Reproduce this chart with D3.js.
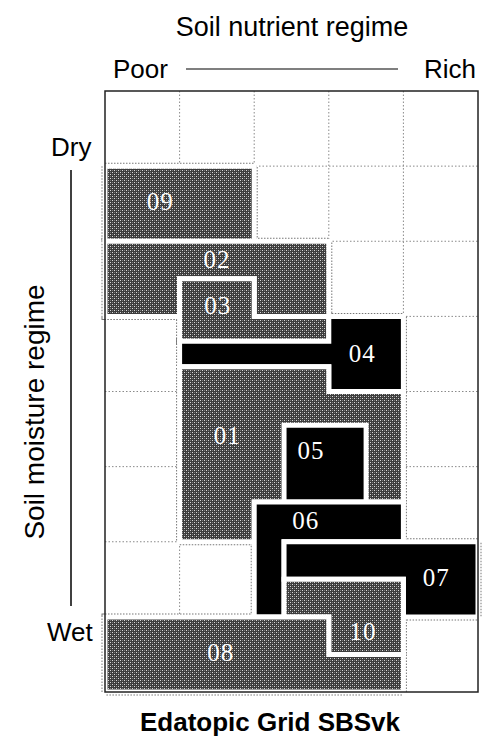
<!DOCTYPE html>
<html lang="en">
<head>
    <meta charset="UTF-8">
    <title>Edatopic Grid SBSvk</title>
    <style>
        body {
            margin: 0;
            background-color: #fff;
            font-family: "Liberation Sans", Arial, sans-serif;
        }
        .unit-label {
            fill: #fff;
            font-family: "Liberation Serif", "DejaVu Serif", serif;
            font-size: 25px;
        }
    </style>
</head>
<body>
    <svg id="chart" width="485" height="740"></svg>
    <script src="https://cdn.jsdelivr.net/npm/d3@7"></script>
    <script>
        // grid: 5 nutrient columns (poor -> rich), 8 moisture rows (dry -> wet)
        const nCols = 5;
        const nRows = 8;

        const unitIds = ["09", "02", "03", "04", "01", "05", "06", "07", "10", "08"];
        const unitShade = ["grey", "grey", "grey", "black", "grey", "black", "black", "black", "grey", "grey"];

        // outlines in grid units [column, row]
        const unitShapes = [
            [[0, 1], [2, 1], [2, 2], [0, 2]],
            [[0, 2], [3, 2], [3, 3], [2, 3], [2, 2.5], [1, 2.5], [1, 3], [0, 3]],
            [[1, 2.5], [2, 2.5], [2, 3], [3, 3], [3, 3.33], [1, 3.33]],
            [[1, 3.33], [3, 3.33], [3, 3], [4, 3], [4, 4], [3, 4], [3, 3.67], [1, 3.67]],
            [[1, 3.67], [3, 3.67], [3, 4], [4, 4], [4, 5.47], [2, 5.47], [2, 6], [1, 6]],
            [[2.4, 4.45], [3.5, 4.45], [3.5, 5.47], [2.4, 5.47]],
            [[2, 5.47], [4, 5.47], [4, 6], [2.4, 6], [2.4, 7], [2, 7]],
            [[2.4, 6], [5, 6], [5, 7], [4, 7], [4, 6.5], [2.4, 6.5]],
            [[2.4, 6.5], [4, 6.5], [4, 7.5], [3, 7.5], [3, 7], [2.4, 7]],
            [[0, 7], [3, 7], [3, 7.5], [4, 7.5], [4, 8], [0, 8]]
        ];

        // where each unit number sits, grid units
        const labelAt = [
            [0.74, 1.47], [1.5, 2.24], [1.51, 2.85], [3.45, 3.49], [1.64, 4.59],
            [2.76, 4.78], [2.69, 5.72], [4.44, 6.48], [3.46, 7.19], [1.55, 7.47]
        ];

        const titleText = "Edatopic Grid SBSvk";
        const nutrientTitle = "Soil nutrient regime";
        const nutrientEnds = ["Poor", "Rich"];
        const moistureTitle = "Soil moisture regime";
        const moistureEnds = ["Dry", "Wet"];

        const svg = d3.select("#chart");

        const x = d3.scaleLinear().domain([0, nCols]).range([105, 478]);
        const y = d3.scaleLinear().domain([0, nRows]).range([91, 692]);

        // halftone fill for the grey units
        const defs = svg.append("defs");
        const pat = defs.append("pattern")
            .attr("id", "halftone")
            .attr("patternUnits", "userSpaceOnUse")
            .attr("width", 4)
            .attr("height", 4);
        pat.append("rect").attr("width", 4).attr("height", 4).attr("fill", "#3c3c3c");
        pat.append("rect").attr("x", 0).attr("y", 0).attr("width", 1).attr("height", 1).attr("fill", "#d8d8d8");
        pat.append("rect").attr("x", 2).attr("y", 2).attr("width", 1).attr("height", 1).attr("fill", "#d8d8d8");
        pat.append("rect").attr("x", 2).attr("y", 0).attr("width", 1).attr("height", 1).attr("fill", "#7a7a7a");
        pat.append("rect").attr("x", 0).attr("y", 2).attr("width", 1).attr("height", 1).attr("fill", "#7a7a7a");

        // dotted grid
        const grid = svg.append("g")
            .attr("stroke", "#8a8a8a")
            .attr("stroke-width", 1)
            .attr("stroke-dasharray", "1.5,2");
        grid.selectAll("line.v")
            .data(d3.range(1, nCols))
            .join("line")
            .attr("class", "v")
            .attr("x1", d => x(d)).attr("x2", d => x(d))
            .attr("y1", y(0)).attr("y2", y(nRows));
        grid.selectAll("line.h")
            .data(d3.range(1, nRows))
            .join("line")
            .attr("class", "h")
            .attr("x1", x(0)).attr("x2", x(nCols))
            .attr("y1", d => y(d)).attr("y2", d => y(d));

        const line = d3.line().x(d => x(d[0])).y(d => y(d[1])).curve(d3.curveLinearClosed);

        const units = unitIds.map((id, i) => ({ id, shade: unitShade[i], pts: unitShapes[i], lab: labelAt[i] }));

        // dotted edge just outside each unit
        svg.append("g")
            .selectAll("path")
            .data(units)
            .join("path")
            .attr("d", d => line(d.pts))
            .attr("fill", "none")
            .attr("stroke", "#777")
            .attr("stroke-width", 7)
            .attr("stroke-dasharray", "1.5,1.5");

        // the units with their white gap
        svg.append("g")
            .selectAll("path")
            .data(units)
            .join("path")
            .attr("d", d => line(d.pts))
            .attr("fill", d => d.shade === "black" ? "#000" : "url(#halftone)")
            .attr("stroke", "#fff")
            .attr("stroke-width", 5)
            .attr("stroke-linejoin", "miter");

        svg.append("g")
            .selectAll("text")
            .data(units)
            .join("text")
            .attr("class", "unit-label")
            .attr("x", d => x(d.lab[0]))
            .attr("y", d => y(d.lab[1]))
            .attr("text-anchor", "middle")
            .attr("dominant-baseline", "central")
            .attr("letter-spacing", 1)
            .text(d => d.id);

        // frame
        svg.append("rect")
            .attr("x", x(0)).attr("y", y(0))
            .attr("width", x(nCols) - x(0))
            .attr("height", y(nRows) - y(0))
            .attr("fill", "none")
            .attr("stroke", "#222")
            .attr("stroke-width", 1.5);

        // axis captions
        const cap = svg.append("g").attr("fill", "#000").attr("font-size", 26);
        cap.append("text")
            .attr("x", 292).attr("y", 36)
            .attr("font-size", 27)
            .attr("text-anchor", "middle")
            .text(nutrientTitle);
        cap.append("text").attr("x", 113).attr("y", 78).text(nutrientEnds[0]);
        cap.append("text").attr("x", 476).attr("y", 78).attr("text-anchor", "end").text(nutrientEnds[1]);
        svg.append("line")
            .attr("x1", 186).attr("x2", 398)
            .attr("y1", 69).attr("y2", 69)
            .attr("stroke", "#000").attr("stroke-width", 1.2);

        cap.append("text").attr("x", 51).attr("y", 156).text(moistureEnds[0]);
        cap.append("text").attr("x", 47).attr("y", 641).text(moistureEnds[1]);
        svg.append("line")
            .attr("x1", 71).attr("x2", 71)
            .attr("y1", 170).attr("y2", 606)
            .attr("stroke", "#000").attr("stroke-width", 1.5);
        cap.append("text")
            .attr("transform", "translate(44,412) rotate(-90)")
            .attr("font-size", 28)
            .attr("text-anchor", "middle")
            .text(moistureTitle);

        svg.append("text")
            .attr("x", 270).attr("y", 731)
            .attr("text-anchor", "middle")
            .attr("font-size", 26)
            .attr("font-weight", "bold")
            .text(titleText);
    </script>
</body>
</html>
